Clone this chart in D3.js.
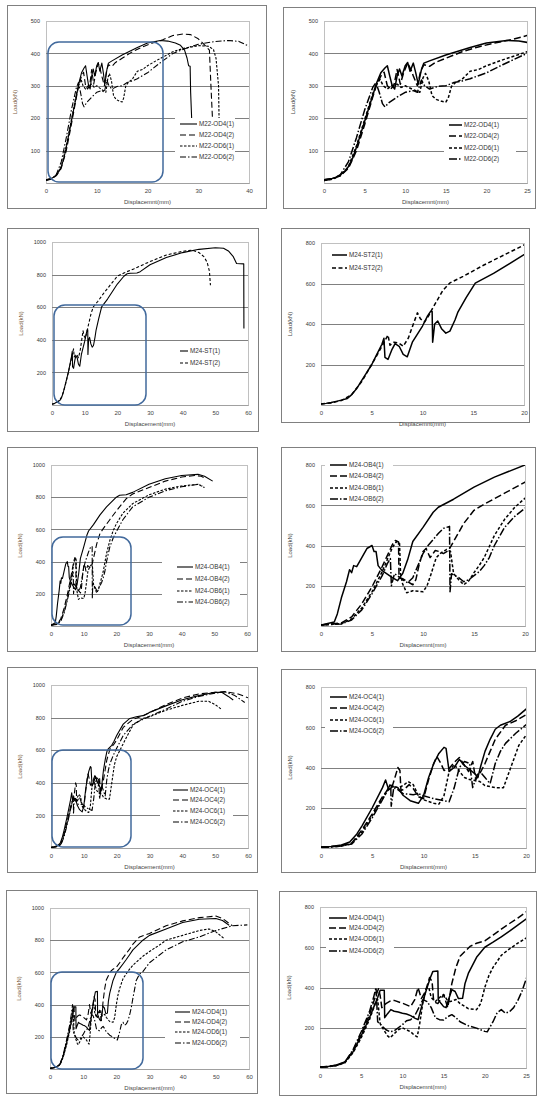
<!DOCTYPE html>
<html>
<head>
<meta charset="utf-8">
<script src="https://cdn.jsdelivr.net/npm/d3@7"></script>
<style>
body{margin:0;background:#fff}
text{font-family:"Liberation Sans",Arial,sans-serif}
</style>
</head>
<body>
<svg id="chart" width="538" height="1096"></svg>
<script>
// ---------- data (displacement mm, load kN) ----------
const m22Labels = ["M22-OD4(1)","M22-OD4(2)","M22-OD6(1)","M22-OD6(2)"]
const m22_od4_1 = [[0,10],[0.5,12],[1,14],[1.5,18],[2,25],[2.5,35],[3,50],[3.5,75],[4,110],[4.5,150],[5,190],[5.5,230],[6,270],[6.5,310],[7,340],[7.5,355],[7.8,362],[8.1,330],[8.4,300],[8.7,290],[9,330],[9.3,352],[9.6,330],[10,362],[10.3,372],[10.6,345],[11,370],[11.3,340],[11.6,305],[12,350],[12.3,370],[13,377],[15,395],[18,418],[20,432],[22.5,440],[24,438],[25.5,432],[26.5,425],[27.3,410],[27.8,385],[28.1,362],[28.4,360],[28.5,280],[28.7,200]]
const m22_od4_2 = [[0,10],[1,13],[2,22],[3,45],[4,100],[5,180],[6,265],[6.5,305],[7,330],[7.4,342],[7.8,300],[8.2,290],[8.6,300],[9,350],[9.4,305],[9.8,340],[10.3,370],[10.7,350],[11,330],[11.5,300],[11.9,345],[12.3,365],[13,360],[13.7,372],[15,385],[17,405],[19,420],[21,432],[23,442],[25,455],[27,460],[28.5,458],[30,445],[31,430],[32.2,410],[32.5,300],[32.8,200]]
const m22_od6_1 = [[0,8],[1,12],[2,22],[3,50],[4,115],[5,195],[6,275],[6.5,305],[6.9,320],[7.3,300],[7.8,290],[8.3,300],[9,305],[9.5,295],[10,300],[11,288],[11.8,280],[12.2,325],[12.5,338],[12.9,315],[13.3,270],[13.8,258],[14.5,252],[15,250],[15.3,262],[15.7,298],[16.2,310],[17,320],[18,345],[19,350],[20,362],[22,380],[25,405],[27,415],[30,424],[32,422],[33,412],[33.5,385],[34,300],[34.1,200]]
const m22_od6_2 = [[0,8],[1,12],[2,25],[3,65],[4,140],[5,225],[6,295],[6.4,310],[6.8,280],[7.2,245],[7.5,235],[8,248],[9,265],[10,280],[11,285],[11.5,280],[12,318],[12.4,300],[13,290],[14,298],[15,300],[16,310],[17,315],[18,322],[20,340],[22,365],[25,400],[28,418],[30,428],[33,436],[36,440],[38,437],[40,422]]

const stLabels = ["M24-ST(1)","M24-ST(2)"]
const st2Labels = ["M24-ST2(1)","M24-ST2(2)"]
const m24_st_1 = [[0,5],[0.5,8],[1,12],[1.5,18],[2,24],[2.6,32],[3,50],[3.5,80],[4,120],[4.5,160],[5,200],[5.5,250],[6,300],[6.2,330],[6.3,235],[6.6,225],[7,275],[7.3,303],[7.7,290],[8.1,250],[8.5,238],[9,310],[9.5,350],[10,390],[10.5,440],[10.8,462],[10.95,462],[11,310],[11.2,400],[11.5,415],[11.9,375],[12.3,355],[12.7,365],[13.2,420],[13.5,460],[14.3,530],[15.2,602],[17,650],[20,742],[22,790],[23,805],[24,808],[26,810],[27,818],[30,860],[35,905],[40,935],[45,955],[50,965],[52.5,962],[54,945],[55.5,910],[56.5,868],[58.7,866],[58.75,470]]
const m24_st_2 = [[0,5],[1,10],[2,22],[3,50],[4,115],[5,200],[6,290],[6.6,345],[6.8,295],[7.2,310],[7.7,305],[8.1,290],[8.6,330],[9.1,400],[9.5,455],[9.8,425],[10.2,410],[10.6,440],[11,478],[12,565],[12.7,603],[14,635],[16,690],[18,740],[20,790],[22,810],[25,835],[30,880],[35,920],[40,943],[43,950],[45,935],[46.5,910],[47.5,875],[48.2,820],[48.5,735]]

const obLabels = ["M24-OB4(1)","M24-OB4(2)","M24-OB6(1)","M24-OB6(2)"]
const m24_ob4_1 = [[0,5],[1.3,20],[1.6,60],[2,140],[2.5,220],[2.8,280],[3,265],[3.2,300],[3.5,295],[4,340],[4.5,385],[5,400],[5.2,370],[5.4,370],[5.6,300],[6,275],[7,240],[7.5,225],[8,260],[8.5,330],[9,420],[10,490],[11,565],[11.5,590],[13,630],[15,690],[17,740],[20,800],[21,812],[23,815],[25,830],[30,880],[35,915],[40,935],[45,942],[47,930],[49.5,900]]
const m24_ob4_2 = [[0,5],[2,15],[3,45],[4,110],[5,195],[6,295],[6.5,350],[7,405],[7.3,425],[7.6,418],[7.65,240],[8,235],[8.5,220],[9,205],[9.3,230],[9.6,300],[10,370],[10.3,385],[10.7,340],[11.2,375],[11.6,370],[12,360],[12.5,375],[13,420],[14,510],[15,575],[16,605],[18,660],[20,715],[23,790],[25,820],[30,860],[35,900],[40,925],[44,935],[46,930],[47,920]]
const m24_ob6_1 = [[0,5],[2,12],[3,35],[4,90],[5,170],[6,270],[6.5,330],[7,390],[7.4,420],[7.7,410],[7.8,260],[8,210],[8.4,165],[9,175],[10,170],[10.4,200],[10.8,260],[11.3,340],[11.8,365],[12.3,380],[12.7,370],[13,260],[13.5,230],[14,205],[14.5,225],[15,265],[15.5,300],[16,340],[17,450],[18,530],[19,590],[20,635],[22,700],[25,760],[30,815],[35,850],[40,870],[45,880],[47,860]]
const m24_ob6_2 = [[0,5],[2,10],[3,30],[4,80],[5,160],[6,250],[6.5,310],[6.8,335],[6.9,200],[7.2,260],[7.5,250],[8,230],[8.5,215],[9,240],[9.5,300],[10,360],[10.5,400],[11,430],[11.5,460],[12,485],[12.6,495],[12.65,170],[12.8,260],[13.5,240],[14,220],[14.5,230],[15,250],[15.5,270],[16,300],[16.5,340],[17,400],[18,490],[19,545],[20,585],[22,660],[25,740],[30,800],[35,840],[40,865],[45,880],[46.5,870]]

const ocLabels = ["M24-OC4(1)","M24-OC4(2)","M24-OC6(1)","M24-OC6(2)"]
const m24_oc4_1 = [[0,5],[1,8],[2,15],[2.8,30],[3.5,70],[4,110],[5,200],[6,300],[6.3,338],[6.6,290],[7,305],[7.5,300],[8,262],[8.7,235],[9.5,222],[10,260],[10.5,350],[11,420],[11.5,470],[12,500],[12.2,495],[12.5,380],[13,400],[13.5,440],[14,410],[14.5,390],[15,370],[15.3,350],[15.6,410],[16,480],[16.5,540],[17,590],[17.5,610],[18.5,630],[19.2,655],[20,690],[22,760],[24,795],[26,805],[28,812],[30,832],[35,872],[40,910],[45,935],[50,955],[52,955],[54,930],[55.5,908]]
const m24_oc4_2 = [[0,4],[1,7],[2,12],[3,25],[4,90],[5,170],[6,255],[6.5,290],[7,315],[7.3,365],[7.5,400],[7.7,385],[7.8,285],[8.2,295],[8.6,315],[9,295],[9.5,255],[10,245],[10.5,340],[11,420],[11.3,455],[11.7,420],[12,385],[12.5,395],[13,425],[13.5,450],[14,410],[14.4,380],[14.8,430],[15.1,340],[15.5,370],[16,420],[16.5,480],[17,540],[18,610],[19,632],[20,662],[22,740],[25,790],[28,810],[30,830],[35,880],[40,920],[45,945],[50,955],[53,960],[57,945],[60,922]]
const m24_oc6_1 = [[0,3],[1,6],[2,10],[3,22],[4,80],[5,160],[6,245],[6.5,285],[7,310],[7.5,300],[8,310],[8.5,330],[9,315],[9.5,260],[10,240],[11,222],[11.5,218],[12,260],[12.5,380],[13,415],[13.5,380],[14,350],[14.5,340],[15,335],[15.5,330],[16,310],[16.5,305],[17,300],[17.8,300],[18.3,370],[18.8,440],[19.3,510],[20,560],[21,600],[23,680],[25,755],[28,795],[30,805],[35,845],[40,875],[45,900],[48,900],[50,880],[52,850]]
const m24_oc6_2 = [[0,3],[1,5],[2,10],[3,20],[4,70],[5,150],[6,240],[6.5,290],[6.8,320],[6.85,208],[7.1,300],[7.5,290],[8,270],[9,265],[9.5,270],[10,260],[11,245],[12,235],[12.5,230],[13,300],[13.5,400],[14,430],[14.5,420],[14.8,300],[15.2,360],[15.5,380],[16,350],[16.5,320],[17,420],[17.5,480],[18,520],[19,570],[20,612],[22,690],[25,760],[30,808],[35,852],[40,900],[45,930],[50,950],[53,958],[56,935],[59,893]]

const odLabels = ["M24-OD4(1)","M24-OD4(2)","M24-OD6(1)","M24-OD6(2)"]
const m24_od4_1 = [[0,5],[1,8],[2,15],[3,30],[4,80],[5,160],[6,250],[6.6,310],[7,350],[7.3,386],[7.8,386],[7.85,250],[8.2,270],[8.6,290],[9,282],[9.5,278],[10,272],[10.5,268],[11,260],[11.5,248],[11.9,240],[12.3,300],[12.7,360],[13,400],[13.4,450],[13.7,480],[14.3,482],[14.35,340],[14.7,320],[15,305],[15.3,300],[15.6,340],[16,389],[16.4,380],[16.8,345],[17.3,346],[17.6,420],[18,470],[19,550],[20,600],[21,625],[22,652],[23,680],[24,710],[25,740],[28,800],[30,830],[35,870],[40,910],[45,930],[50,935],[52,922],[54,893]]
const m24_od4_2 = [[0,5],[1,8],[2,14],[3,28],[4,85],[5,170],[6,265],[6.6,340],[7.1,394],[7.3,360],[7.5,300],[8,320],[8.5,332],[9,336],[10,322],[11,305],[11.5,340],[11.9,400],[12.3,345],[12.8,380],[13.3,450],[13.6,430],[13.8,330],[14.3,320],[15,365],[15.5,300],[16,420],[16.5,500],[17,555],[18.2,604],[19,620],[20,632],[21,660],[22,690],[23,718],[24,745],[25,775],[27,820],[30,842],[35,890],[40,920],[45,940],[50,950],[52,935],[55,890]]
const m24_od6_1 = [[0,4],[1,7],[2,12],[3,25],[4,75],[5,150],[6,240],[6.7,320],[7,340],[7.3,220],[7.8,185],[8.2,160],[8.5,150],[9,170],[9.5,190],[10,200],[10.5,190],[11,180],[11.4,165],[11.8,155],[12.1,220],[12.5,330],[12.9,395],[13.2,400],[13.5,350],[14,330],[14.5,350],[15,365],[15.4,340],[15.8,330],[16.5,340],[17,320],[18,295],[19,290],[19.5,320],[20,400],[20.5,460],[21,500],[22,560],[23,592],[24,620],[25,645],[28,700],[30,730],[33,770],[35,800],[40,830],[45,860],[48,870],[50,852],[52.5,810]]
const m24_od6_2 = [[0,3],[1,6],[2,12],[3,28],[4,90],[5,180],[6,280],[6.5,350],[6.8,400],[7,230],[7.5,210],[8,190],[8.5,180],[9,185],[9.5,200],[10,215],[10.5,235],[11,240],[11.5,260],[12,300],[12.5,340],[13,330],[13.5,300],[14,250],[14.5,240],[15,238],[15.5,255],[16,265],[16.5,250],[17,230],[18,210],[19,198],[20,182],[20.3,180],[21,230],[21.5,275],[22,290],[22.5,272],[23,280],[23.5,300],[24,335],[24.5,380],[25,440],[26,550],[27,590],[28,605],[30,660],[35,740],[40,790],[45,820],[50,860],[55,890],[59.5,895]]

// tick labels
const xTicks40 = [0,10,20,30,40]
const xTicks60 = [0,10,20,30,40,50,60]
const xTicks25 = [0,5,10,15,20,25]
const xTicks20 = [0,5,10,15,20]
const yTicks500 = [100,200,300,400,500]
const yTicks1000 = [200,400,600,800,1000]
const yTicks800 = [200,400,600,800]

// ---------- layout ----------
const svg = d3.select("#chart")
const dashSmall = [null, "6,3", "2.5,1.5", "6,2,1.5,2"]
const dashBig = [null, "7,3", "3,2", "8,2,1.5,2"]

const panels = [
  {box:[7,5,259,203], plot:[46,21,249,183], xd:[0,40], yd:[0,500], xt:xTicks40, yt:yTicks500, xTitle:"Displacemnt(mm)", left:true,
   series:[m22_od4_1,m22_od4_2,m22_od6_1,m22_od6_2], labels:m22Labels, blue:[48,42,115,140],
   leg:{x:180, len:17, rows:[124,135,146,157], bg:[175,118,60,46]}},
  {box:[283,7,252,201], plot:[324,21,527,183], xd:[0,25], yd:[0,500], xt:xTicks25, yt:yTicks500, xTitle:"Displacemnt(mm)",
   series:[m22_od4_1,m22_od4_2,m22_od6_1,m22_od6_2], labels:m22Labels,
   leg:{x:449, len:13, rows:[125,136,148,159], bg:[444,119,72,46]}},
  {box:[7,228,251,203], plot:[52,242,248,405], xd:[0,60], yd:[0,1000], xt:xTicks60, yt:yTicks1000, xTitle:"Displacement(mm)", left:true,
   series:[m24_st_1,m24_st_2], labels:stLabels, blue:[54,305,92,100], dash:[null,"3,2"],
   leg:{x:180, len:8, rows:[351,363], bg:[176,345,60,24]}},
  {box:[281,228,248,194], plot:[321,243,524,405], xd:[0,20], yd:[0,800], xt:xTicks20, yt:yTicks800, xTitle:"Displacemnt(mm)",
   series:[m24_st_1,m24_st_2], labels:st2Labels, dash:[null,"4,2.5"],
   leg:{x:332, len:15, rows:[255,268], bg:[328,249,62,25]}},
  {box:[7,447,250,204], plot:[51,465,247,626], xd:[0,60], yd:[0,1000], xt:xTicks60, yt:yTicks1000, xTitle:"Displacement(mm)", left:true,
   series:[m24_ob4_1,m24_ob4_2,m24_ob6_1,m24_ob6_2], labels:obLabels, blue:[52,537,79,88],
   leg:{x:177, len:16, rows:[567,579,591,602], bg:[162,561,78,47]}},
  {box:[281,447,254,204], plot:[321,465,525,626], xd:[0,20], yd:[0,800], xt:xTicks20, yt:yTicks800, xTitle:"Displacemnt(mm)",
   series:[m24_ob4_1,m24_ob4_2,m24_ob6_1,m24_ob6_2], labels:obLabels,
   leg:{x:330, len:17, rows:[465,476,488,499], bg:[325,459,68,46]}},
  {box:[7,667,250,205], plot:[51,685,248,848], xd:[0,60], yd:[0,1000], xt:xTicks60, yt:yTicks1000, xTitle:"Displacement(mm)", left:true,
   series:[m24_oc4_1,m24_oc4_2,m24_oc6_1,m24_oc6_2], labels:ocLabels, blue:[52,750,79,97],
   leg:{x:173, len:15, rows:[790,800,811,822], bg:[160,784,73,44]}},
  {box:[281,669,254,203], plot:[321,687,526,848], xd:[0,20], yd:[0,800], xt:xTicks20, yt:yTicks800, xTitle:"Displacemnt(mm)",
   series:[m24_oc4_1,m24_oc4_2,m24_oc6_1,m24_oc6_2], labels:ocLabels,
   leg:{x:330, len:17, rows:[697,708,720,731], bg:[325,691,68,46]}},
  {box:[6,890,251,203], plot:[50,908,249,1069], xd:[0,60], yd:[0,1000], xt:xTicks60, yt:yTicks1000, xTitle:"Displacement(mm)", left:true,
   series:[m24_od4_1,m24_od4_2,m24_od6_1,m24_od6_2], labels:odLabels, blue:[51,972,92,97],
   leg:{x:175, len:15, rows:[1012,1022,1032,1043], bg:[165,1006,75,44]}},
  {box:[279,891,257,204], plot:[320,907,526,1068], xd:[0,25], yd:[0,800], xt:xTicks25, yt:yTicks800, xTitle:"Displacemnt(mm)",
   series:[m24_od4_1,m24_od4_2,m24_od6_1,m24_od6_2], labels:odLabels,
   leg:{x:329, len:18, rows:[918,928,939,951], bg:[326,912,68,46]}}
]

panels.forEach(function(p, i){
  const g = svg.append("g")
  const [l, t, r, b] = p.plot
  const x = d3.scaleLinear().domain(p.xd).range([l, r])
  const y = d3.scaleLinear().domain(p.yd).range([b, t])
  const lw = p.left ? 1.1 : 1.5
  const dashes = p.dash || (p.left ? dashSmall : dashBig)

  // outer frame
  g.append("rect")
    .attr("x", p.box[0] + 0.5).attr("y", p.box[1] + 0.5)
    .attr("width", p.box[2]).attr("height", p.box[3])
    .attr("fill", "#fff").attr("stroke", "#808080")

  // plot frame
  g.append("rect")
    .attr("x", l + 0.5).attr("y", t + 0.5)
    .attr("width", r - l).attr("height", b - t)
    .attr("fill", "#fff").attr("stroke", "#c0c0c0")

  // gridlines
  g.append("g")
    .attr("transform", `translate(${l},0)`)
    .call(d3.axisLeft(y).tickValues(p.yt.filter(v => v < p.yd[1])).tickSize(-(r - l)).tickFormat(""))
    .call(s => s.select(".domain").remove())
    .call(s => s.selectAll("line").attr("stroke", "#808080").attr("shape-rendering", "crispEdges"))

  // y labels
  g.append("g")
    .attr("transform", `translate(${l},0)`)
    .call(d3.axisLeft(y).tickValues(p.yt).tickSize(0).tickPadding(6).tickFormat(d3.format("d")))
    .call(s => s.select(".domain").remove())
    .call(s => s.selectAll("text").attr("font-size", 5.5).attr("fill", "#333").attr("font-family", "Liberation Sans, Arial"))

  // x labels
  g.append("g")
    .attr("transform", `translate(0,${b})`)
    .call(d3.axisBottom(x).tickValues(p.xt).tickSize(0).tickPadding(6).tickFormat(d3.format("d")))
    .call(s => s.select(".domain").attr("stroke", "#a0a0a0"))
    .call(s => s.selectAll("text").attr("font-size", 6).attr("fill", "#444").attr("font-family", "Liberation Sans, Arial"))

  // axis titles
  g.append("text")
    .attr("x", (l + r) / 2).attr("y", b + 21)
    .attr("text-anchor", "middle").attr("font-size", 6).attr("fill", "#444")
    .text(p.xTitle)
  g.append("text")
    .attr("transform", `translate(${l - 29},${(t + b) / 2}) rotate(-90)`)
    .attr("text-anchor", "middle").attr("font-size", 6)
    .attr("fill", p.left ? "#7a5a3e" : "#444")
    .text("Load(kN)")

  // clip
  svg.append("clipPath").attr("id", "clip" + i)
    .append("rect").attr("x", l).attr("y", t).attr("width", r - l).attr("height", b - t)

  const line = d3.line().x(d => x(d[0])).y(d => y(d[1]))
  g.append("g").attr("clip-path", `url(#clip${i})`)
    .selectAll("path").data(p.series).join("path")
    .attr("d", line)
    .attr("fill", "none").attr("stroke", "#000")
    .attr("stroke-width", lw)
    .attr("stroke-linejoin", "round")
    .attr("stroke-dasharray", (d, k) => dashes[k])

  // blue highlight box on the full-range charts
  if (p.blue) {
    g.append("rect")
      .attr("x", p.blue[0]).attr("y", p.blue[1])
      .attr("width", p.blue[2]).attr("height", p.blue[3])
      .attr("rx", 11).attr("ry", 11)
      .attr("fill", "none").attr("stroke", "#41699c").attr("stroke-width", 1.5)
  }

  // legend
  const lg = g.append("g")
  lg.append("rect")
    .attr("x", p.leg.bg[0]).attr("y", p.leg.bg[1])
    .attr("width", p.leg.bg[2]).attr("height", p.leg.bg[3])
    .attr("fill", "#fff")
  p.labels.forEach(function(name, k){
    const ry = p.leg.rows[k]
    lg.append("line")
      .attr("x1", p.leg.x).attr("x2", p.leg.x + p.leg.len)
      .attr("y1", ry).attr("y2", ry)
      .attr("stroke", "#000").attr("stroke-width", lw)
      .attr("stroke-dasharray", dashes[k])
    lg.append("text")
      .attr("x", p.leg.x + p.leg.len + 2).attr("y", ry + 2)
      .attr("font-size", 6.3).attr("fill", "#333")
      .text(name)
  })
})
</script>
</body>
</html>
